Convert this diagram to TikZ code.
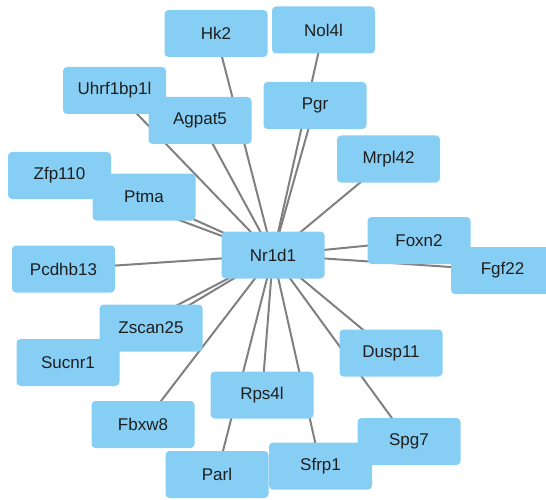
\documentclass[tikz,border=0pt]{standalone}
\usepackage{fontspec}
\setmainfont{Liberation Sans}
\definecolor{nodeblue}{RGB}{135,206,245}
\definecolor{edgegray}{RGB}{128,128,128}
\definecolor{txt}{RGB}{30,30,30}
\begin{document}
\begin{tikzpicture}[x=1pt,y=-1pt,
  gene/.style={rectangle, rounded corners=4pt, fill=nodeblue, draw=none,
    minimum width=103pt, minimum height=47pt, inner sep=0pt,
    text=txt, font=\fontsize{17}{19}\selectfont},
  link/.style={draw=edgegray, line width=2pt}]
\useasboundingbox (0,0) rectangle (546,500);
% node positions (centres)
\coordinate (pHk2) at (216,33.5);
\coordinate (pNol4l) at (323.5,30);
\coordinate (pUhrf) at (114.5,90.5);
\coordinate (pAgpat5) at (200,120.5);
\coordinate (pPgr) at (315,105.5);
\coordinate (pMrpl42) at (388.5,159);
\coordinate (pZfp110) at (59.5,175.5);
\coordinate (pPtma) at (144,197);
\coordinate (pNr1d1) at (273,255);
\coordinate (pFoxn2) at (419,240.5);
\coordinate (pFgf22) at (502.5,270.5);
\coordinate (pPcdhb13) at (63.5,269);
\coordinate (pZscan25) at (151,328);
\coordinate (pSucnr1) at (68,362.5);
\coordinate (pDusp11) at (391,353);
\coordinate (pRps4l) at (262,395);
\coordinate (pFbxw8) at (143,424.5);
\coordinate (pSpg7) at (409,441.5);
\coordinate (pSfrp1) at (320.5,466);
\coordinate (pParl) at (217,474.5);
% edges (behind nodes)
\foreach \t in {pHk2,pNol4l,pUhrf,pAgpat5,pPgr,pMrpl42,pZfp110,pPtma,pFoxn2,pFgf22,pPcdhb13,pZscan25,pSucnr1,pDusp11,pRps4l,pFbxw8,pSpg7,pSfrp1,pParl}
  \draw[link] (pNr1d1) -- (\t);
% nodes
\node[gene] (Hk2) at (pHk2) {Hk2};
\node[gene] (Nol4l) at (pNol4l) {Nol4l};
\node[gene] (Uhrf1bp1l) at (pUhrf) {Uhrf1bp1l};
\node[gene] (Agpat5) at (pAgpat5) {Agpat5};
\node[gene] (Pgr) at (pPgr) {Pgr};
\node[gene] (Mrpl42) at (pMrpl42) {Mrpl42};
\node[gene] (Zfp110) at (pZfp110) {Zfp110};
\node[gene] (Ptma) at (pPtma) {Ptma};
\node[gene] (Foxn2) at (pFoxn2) {Foxn2};
\node[gene] (Fgf22) at (pFgf22) {Fgf22};
\node[gene] (Pcdhb13) at (pPcdhb13) {Pcdhb13};
\node[gene] (Sucnr1) at (pSucnr1) {Sucnr1};
\node[gene] (Zscan25) at (pZscan25) {Zscan25};
\node[gene] (Dusp11) at (pDusp11) {Dusp11};
\node[gene] (Rps4l) at (pRps4l) {Rps4l};
\node[gene] (Fbxw8) at (pFbxw8) {Fbxw8};
\node[gene] (Sfrp1) at (pSfrp1) {Sfrp1};
\node[gene] (Spg7) at (pSpg7) {Spg7};
\node[gene] (Parl) at (pParl) {Parl};
\node[gene] (Nr1d1) at (pNr1d1) {Nr1d1};
\end{tikzpicture}
\end{document}
